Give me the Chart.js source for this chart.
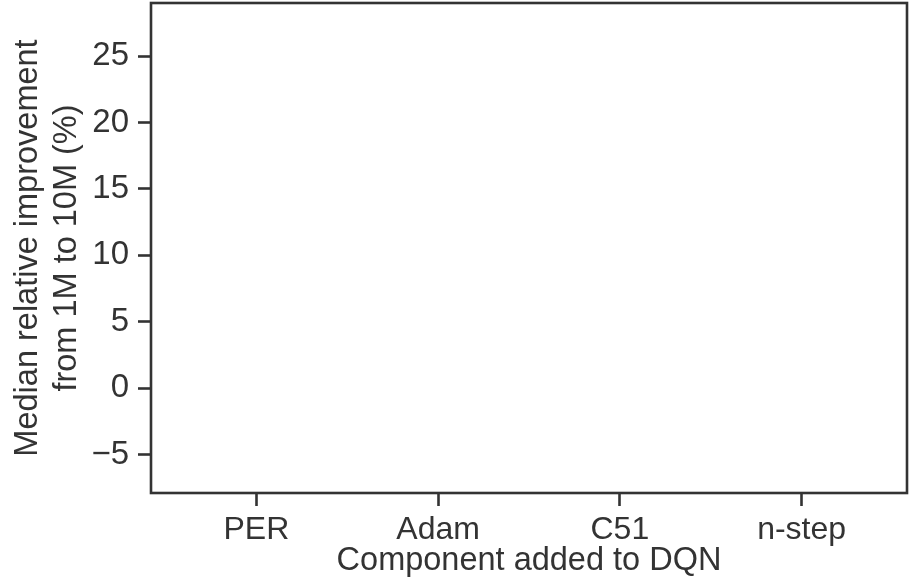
<!DOCTYPE html>
<html>
<head>
<meta charset="utf-8">
<script src="https://cdn.jsdelivr.net/npm/chart.js@4/dist/chart.umd.min.js"></script>
<style>
  html, body { margin: 0; padding: 0; background: #ffffff; }
  #wrap { width: 909px; height: 587px; position: relative; }
</style>
</head>
<body>
<div id="wrap"><canvas id="chart" width="909" height="587"></canvas></div>
<script>
// Components added to DQN (x-axis categories)
const categories = ['PER', 'Adam', 'C51', 'n-step'];
// y-axis tick values (%)
const yTickValues = [-5, 0, 5, 10, 15, 20, 25];
// axis ranges
const yRange = [-7.9, 29.0];
const xRange = [-0.58, 3.58];

const INK = '#333333';
const FONT = "'Liberation Sans', Arial, Helvetica, sans-serif";

// closed frame around the plotting area
const framePlugin = {
  id: 'frame',
  afterDraw(chart) {
    const { ctx, chartArea: a } = chart;
    ctx.save();
    ctx.strokeStyle = INK;
    ctx.lineWidth = 2.6;
    ctx.strokeRect(a.left, a.top, a.right - a.left, a.bottom - a.top);
    ctx.restore();
  }
};

new Chart(document.getElementById('chart'), {
  type: 'scatter',
  data: { datasets: [] },
  options: {
    responsive: false,
    animation: false,
    layout: { padding: { left: 0, right: 2, top: 3, bottom: 0 } },
    plugins: { legend: { display: false }, tooltip: { enabled: false } },
    scales: {
      x: {
        type: 'linear',
        min: xRange[0],
        max: xRange[1],
        afterBuildTicks(scale) {
          scale.ticks = categories.map((_, i) => ({ value: i }));
        },
        afterFit(scale) {
          scale.height = 94;
          scale.paddingLeft = 0;
          scale.paddingRight = 0;
        },
        border: { display: false },
        grid: {
          display: true,
          drawOnChartArea: false,
          drawTicks: true,
          tickLength: 13,
          tickWidth: 2.6,
          tickColor: INK,
          color: INK
        },
        ticks: {
          color: INK,
          padding: 5,
          font: { family: FONT, size: 32 },
          maxRotation: 0,
          autoSkip: false,
          callback: (v) => categories[v] ?? ''
        },
        title: {
          display: true,
          text: 'Component added to DQN',
          color: INK,
          font: { family: FONT, size: 32.5, lineHeight: 1.2 },
          padding: { top: 0, bottom: 6 }
        }
      },
      y: {
        type: 'linear',
        min: yRange[0],
        max: yRange[1],
        afterBuildTicks(scale) {
          scale.ticks = yTickValues.map(v => ({ value: v }));
        },
        afterFit(scale) {
          scale.width = 151;
          scale.paddingTop = 0;
          scale.paddingBottom = 0;
        },
        border: { display: false },
        grid: {
          display: true,
          drawOnChartArea: false,
          drawTicks: true,
          tickLength: 13,
          tickWidth: 2.6,
          tickColor: INK,
          color: INK
        },
        ticks: {
          color: INK,
          padding: 9,
          font: { family: FONT, size: 33 },
          callback: (v) => (v < 0 ? '\u2212' + Math.abs(v) : String(v))
        },
        title: {
          display: true,
          text: ['Median relative improvement', 'from 1M to 10M (%)'],
          color: INK,
          font: { family: FONT, size: 32.5, lineHeight: 1.2 },
          padding: { top: 9, bottom: 0 }
        }
      }
    }
  },
  plugins: [framePlugin]
});
</script>
</body>
</html>
